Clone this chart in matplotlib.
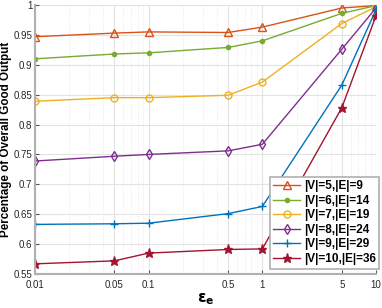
import numpy as np
import matplotlib
matplotlib.use("Agg")
import matplotlib.pyplot as plt
from matplotlib.ticker import FixedLocator, NullFormatter

plt.rcParams['font.family'] = ['Liberation Sans', 'DejaVu Sans']

# ---------------------------------------------------------------------
# data
eps = [0.01, 0.05, 0.1, 0.5, 1, 5, 10]
v5_e9 = [0.947, 0.953, 0.955, 0.954, 0.963, 0.995, 0.999]
v6_e14 = [0.910, 0.918, 0.920, 0.929, 0.940, 0.986, 0.999]
v7_e19 = [0.839, 0.845, 0.845, 0.849, 0.871, 0.969, 0.997]
v8_e24 = [0.739, 0.747, 0.750, 0.756, 0.767, 0.926, 0.995]
v9_e29 = [0.633, 0.634, 0.635, 0.651, 0.663, 0.866, 0.992]
v10_e36 = [0.567, 0.572, 0.585, 0.591, 0.592, 0.828, 0.982]

labels = ["|V|=5,|E|=9", "|V|=6,|E|=14", "|V|=7,|E|=19",
          "|V|=8,|E|=24", "|V|=9,|E|=29", "|V|=10,|E|=36"]
xticks = [0.01, 0.05, 0.1, 0.5, 1, 5, 10]
xticklabels = ["0.01", "0.05", "0.1", "0.5", "1", "5", "10"]
yticks = [0.55, 0.6, 0.65, 0.7, 0.75, 0.8, 0.85, 0.9, 0.95, 1.0]
yticklabels = ["0.55", "0.6", "0.65", "0.7", "0.75", "0.8", "0.85", "0.9", "0.95", "1"]

# MATLAB default colour order
styles = [
    dict(color="#D95319", marker="^", mfc="none", ms=5.5),
    dict(color="#77AC30", marker=".", ms=6),
    dict(color="#EDB120", marker="o", mfc="none", ms=5),
    dict(color="#7E2F8E", marker="d", mfc="none", ms=5),
    dict(color="#0072BD", marker="+", ms=5.5),
    dict(color="#A2142F", marker="*", ms=6.5),
]
series = [v5_e9, v6_e14, v7_e19, v8_e24, v9_e29, v10_e36]

fig = plt.figure(figsize=(3.82, 3.08), dpi=100)
ax = fig.add_axes([35 / 382, 1 - 274 / 308, 341 / 382, 269 / 308])

for ys, lab, st in zip(series, labels, styles):
    ax.plot(eps, ys, lw=1.0, mew=1.0, label=lab, **st)

ax.set_xscale("log")
ax.set_xlim(0.01, 10)
ax.set_ylim(0.55, 1.0)
ax.set_xticks(xticks)
ax.set_xticklabels(xticklabels)
ax.xaxis.set_minor_locator(FixedLocator(
    [m * 10.0 ** k for k in (-2, -1, 0) for m in range(2, 10)]))
ax.xaxis.set_minor_formatter(NullFormatter())
ax.set_yticks(yticks)
ax.set_yticklabels(yticklabels)

ax.grid(True, which="major", color="#e3e3e3", lw=0.8)
ax.grid(True, which="minor", axis="x", color="#e3e3e3", lw=0.6, ls=":")
ax.set_axisbelow(True)

for s in ("top", "right"):
    ax.spines[s].set_visible(False)
for s in ("left", "bottom"):
    ax.spines[s].set_color("#b0b0b0")
    ax.spines[s].set_linewidth(1.5)
ax.tick_params(which="both", direction="in", length=3, color="#555555",
               labelsize=7, labelcolor="#262626", pad=2)
ax.tick_params(axis="x", pad=4)
ax.tick_params(which="minor", length=0)

ax.set_ylabel("Percentage of Overall Good Output", fontsize=8.4,
              fontweight="bold")
ax.yaxis.set_label_coords(-0.066, 0.5)
ax.set_xlabel(r"$\mathbf{\epsilon_e}$", fontsize=11, labelpad=1)

leg = ax.legend(loc="lower right", bbox_to_anchor=(1.01, 0.02),
                prop=dict(size=8.5, weight="bold"), frameon=True,
                fancybox=False, borderpad=0.3, labelspacing=0.22,
                handlelength=2.3, handletextpad=0.3, borderaxespad=0.0)
leg.get_frame().set_edgecolor("#b0b0b0")
leg.get_frame().set_linewidth(1.2)
leg.get_frame().set_alpha(1.0)

fig.savefig("out.png", dpi=100)
